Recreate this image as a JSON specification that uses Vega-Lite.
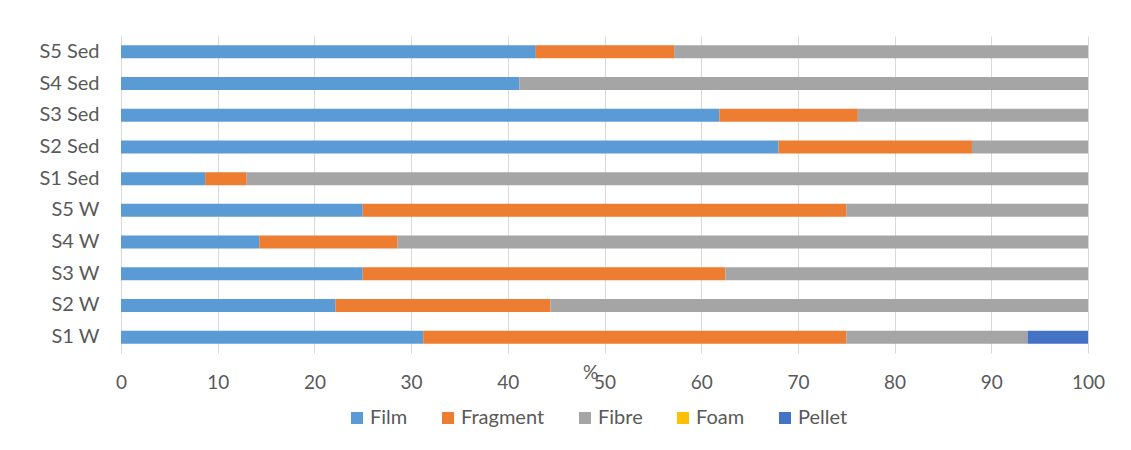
{
  "$schema": "https://vega.github.io/schema/vega-lite/v6.json",
  "autosize": "none",
  "width": 967,
  "height": 317,
  "padding": {"left": 121, "top": 36, "right": 43, "bottom": 97},
  "background": "white",
  "config": {
    "font": "Lato",
    "view": {"stroke": null}
  },
  "data": {
    "values": [
      {"site": "S1 W", "type": "Film", "pct": 31.25},
      {"site": "S1 W", "type": "Fragment", "pct": 43.75},
      {"site": "S1 W", "type": "Fibre", "pct": 18.75},
      {"site": "S1 W", "type": "Pellet", "pct": 6.25},
      {"site": "S2 W", "type": "Film", "pct": 22.2},
      {"site": "S2 W", "type": "Fragment", "pct": 22.2},
      {"site": "S2 W", "type": "Fibre", "pct": 55.6},
      {"site": "S3 W", "type": "Film", "pct": 25},
      {"site": "S3 W", "type": "Fragment", "pct": 37.5},
      {"site": "S3 W", "type": "Fibre", "pct": 37.5},
      {"site": "S4 W", "type": "Film", "pct": 14.3},
      {"site": "S4 W", "type": "Fragment", "pct": 14.3},
      {"site": "S4 W", "type": "Fibre", "pct": 71.4},
      {"site": "S5 W", "type": "Film", "pct": 25},
      {"site": "S5 W", "type": "Fragment", "pct": 50},
      {"site": "S5 W", "type": "Fibre", "pct": 25},
      {"site": "S1 Sed", "type": "Film", "pct": 8.7},
      {"site": "S1 Sed", "type": "Fragment", "pct": 4.3},
      {"site": "S1 Sed", "type": "Fibre", "pct": 87.0},
      {"site": "S2 Sed", "type": "Film", "pct": 68},
      {"site": "S2 Sed", "type": "Fragment", "pct": 20},
      {"site": "S2 Sed", "type": "Fibre", "pct": 12},
      {"site": "S3 Sed", "type": "Film", "pct": 61.9},
      {"site": "S3 Sed", "type": "Fragment", "pct": 14.3},
      {"site": "S3 Sed", "type": "Fibre", "pct": 23.8},
      {"site": "S4 Sed", "type": "Film", "pct": 41.2},
      {"site": "S4 Sed", "type": "Fibre", "pct": 58.8},
      {"site": "S5 Sed", "type": "Film", "pct": 42.9},
      {"site": "S5 Sed", "type": "Fragment", "pct": 14.3},
      {"site": "S5 Sed", "type": "Fibre", "pct": 42.8}
    ]
  },
  "transform": [
    {"calculate": "indexof(['Film','Fragment','Fibre','Foam','Pellet'], datum.type)", "as": "typeOrder"}
  ],
  "mark": {"type": "bar", "size": 13},
  "encoding": {
    "y": {
      "field": "site",
      "type": "nominal",
      "sort": ["S5 Sed", "S4 Sed", "S3 Sed", "S2 Sed", "S1 Sed", "S5 W", "S4 W", "S3 W", "S2 W", "S1 W"],
      "axis": {
        "title": null,
        "domain": false,
        "ticks": false,
        "tickSize": 0,
        "labelPadding": 22,
        "labelFontSize": 20,
        "labelColor": "#595959"
      }
    },
    "x": {
      "field": "pct",
      "type": "quantitative",
      "stack": "zero",
      "scale": {"domain": [0, 100], "nice": false},
      "axis": {
        "title": "%",
        "titleFontSize": 19,
        "titleFontWeight": "normal",
        "titleColor": "#595959",
        "titleX": 469,
        "titleY": 25,
        "titleBaseline": "alphabetic",
        "values": [0, 10, 20, 30, 40, 50, 60, 70, 80, 90, 100],
        "domain": false,
        "ticks": false,
        "tickSize": 0,
        "grid": true,
        "gridColor": "#D9D9D9",
        "gridWidth": 1,
        "labelPadding": 20,
        "labelFontSize": 19,
        "labelColor": "#595959",
        "labelFlush": false
      }
    },
    "order": {"field": "typeOrder", "type": "quantitative", "sort": "ascending"},
    "color": {
      "field": "type",
      "type": "nominal",
      "scale": {
        "domain": ["Film", "Fragment", "Fibre", "Foam", "Pellet"],
        "range": ["#5B9BD5", "#ED7D31", "#A5A5A5", "#FFC000", "#4472C4"]
      },
      "legend": {
        "title": null,
        "orient": "none",
        "legendX": 226,
        "legendY": 372,
        "direction": "horizontal",
        "columns": 5,
        "gridAlign": "none",
        "columnPadding": 30,
        "symbolType": "square",
        "symbolSize": 144,
        "symbolStrokeWidth": 0,
        "symbolOpacity": 1,
        "labelOffset": 3,
        "labelFontSize": 20,
        "labelColor": "#595959"
      }
    }
  }
}
